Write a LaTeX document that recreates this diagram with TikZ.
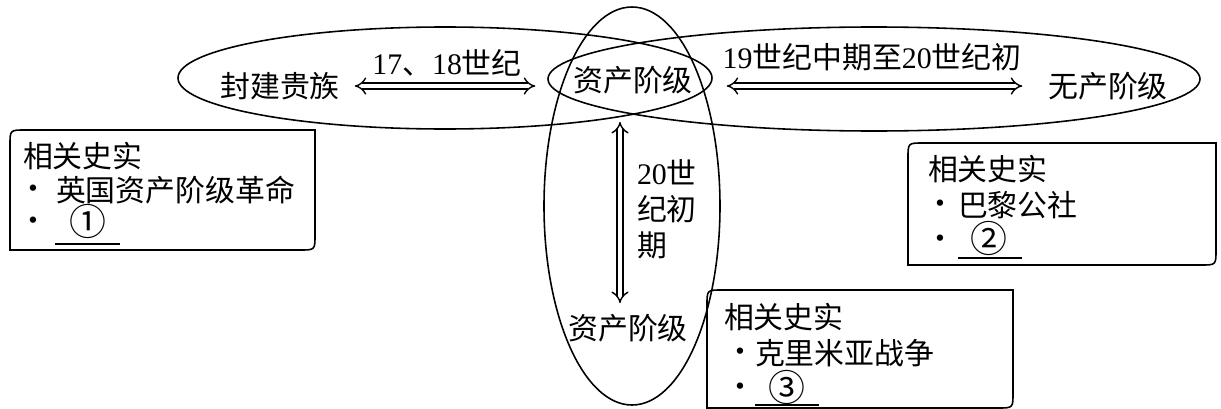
\documentclass[tikz,border=0pt]{standalone}
\usepackage{fontspec}
\setmainfont{Liberation Serif}
\newfontfamily\cjk{Noto Sans CJK SC}
\usetikzlibrary{shapes.geometric,arrows.meta,calc}
\newcommand{\zh}[1]{{\cjk #1}}
\begin{document}
\begin{tikzpicture}[x=0.02cm,y=-0.02cm,
  txt/.style={inner sep=0pt, outer sep=0pt, font=\fontsize{17}{20}\selectfont},
  circ/.style={inner sep=0pt, outer sep=0pt, font=\fontsize{21}{22}\selectfont},
  oval/.style={ellipse, draw, line width=0.9pt, inner sep=0pt, outer sep=0pt},
  dbl/.style={double, line width=0.8pt, double distance=2.6pt, {Implies[length=4.5pt]}-{Implies[length=4.5pt]}},
  boxn/.style={inner sep=0pt, outer sep=0pt},
  boxline/.style={line width=0.9pt},
  uline/.style={line width=0.8pt}]
\useasboundingbox (0,0) rectangle (1221,409);

% ellipses
\node[oval, minimum width=534*0.02cm, minimum height=102*0.02cm] (ovL) at (445,78) {};
\node[oval, minimum width=652*0.02cm, minimum height=104*0.02cm] (ovR) at (874,79) {};
\node[oval, minimum width=176*0.02cm, minimum height=398*0.02cm] (ovV) at (632,206) {};

% main labels
\node[txt] (feng) at (280,86) {\zh{封建贵族}};
\node[txt] (zc) at (633,80) {\zh{资产阶级}};
\node[txt] (wu) at (1108,86) {\zh{无产阶级}};
\node[txt] (zb) at (628,328) {\zh{资产阶级}};

\node[txt] (t1) at (447,63) {17\zh{、}18\zh{世纪}};
\node[txt] (t2) at (872,57) {19\zh{世纪中期至}20\zh{世纪初}};
\node[txt, anchor=north west, align=left, font=\fontsize{17}{20.5}\selectfont] (t3) at (637,160) {20\zh{世}\\\zh{纪初}\\\zh{期}};

% arrows
\draw[dbl, shorten <=0.3cm, shorten >=0.76cm] (feng.east) -- (feng.east -| zc.west);
\draw[dbl, shorten <=0.68cm, shorten >=0.52cm] (zc.east |- wu.west) -- (wu.west);
\draw[dbl, shorten <=0.56cm, shorten >=0.22cm] ([xshift=-0.26cm]zc.south) -- ([xshift=-0.26cm]zc.south |- zb.north);

% box 1
\node[boxn, minimum width=305*0.02cm, minimum height=120*0.02cm] (b1) at (162.5,190) {};
\draw[boxline] (b1.south west) -- ($(b1.north west)+(0,15)$) .. controls (b1.north west) .. ($(b1.north west)+(15,0)$)
  -- (b1.north east) -- ($(b1.south east)+(0,-15)$) .. controls (b1.south east) .. ($(b1.south east)+(-15,0)$) -- cycle;
\node[txt, anchor=west] (b1h) at (23,156) {\zh{相关史实}};
\node[txt] (b1d1) at (33,192) {\zh{·}};
\node[txt, anchor=west] (b1a) at (56,190) {\zh{英国资产阶级革命}};
\node[txt] (b1d2) at (33,224) {\zh{·}};
\node[circ] (b1c) at (88,221) {\zh{①}};
\draw[uline] (55,244) -- (120,244);

% box 2
\node[boxn, minimum width=308*0.02cm, minimum height=122*0.02cm] (b2) at (1062,204) {};
\draw[boxline] (b2.south west) -- ($(b2.north west)+(0,15)$) .. controls (b2.north west) .. ($(b2.north west)+(15,0)$)
  -- (b2.north east) -- ($(b2.south east)+(0,-15)$) .. controls (b2.south east) .. ($(b2.south east)+(-15,0)$) -- cycle;
\node[txt, anchor=west] (b2h) at (928,169) {\zh{相关史实}};
\node[txt] (b2d1) at (940,207) {\zh{·}};
\node[txt, anchor=west] (b2a) at (958,205) {\zh{巴黎公社}};
\node[txt] (b2d2) at (940,242) {\zh{·}};
\node[circ] (b2c) at (989,238) {\zh{②}};
\draw[uline] (958,258) -- (1022,258);

% box 3
\node[boxn, minimum width=306*0.02cm, minimum height=118*0.02cm] (b3) at (860,349) {};
\draw[boxline] (b3.south west) -- ($(b3.north west)+(0,15)$) .. controls (b3.north west) .. ($(b3.north west)+(15,0)$)
  -- (b3.north east) -- ($(b3.south east)+(0,-15)$) .. controls (b3.south east) .. ($(b3.south east)+(-15,0)$) -- cycle;
\node[txt, anchor=west] (b3h) at (724,317) {\zh{相关史实}};
\node[txt] (b3d1) at (740,355) {\zh{·}};
\node[txt, anchor=west] (b3a) at (755,353) {\zh{克里米亚战争}};
\node[txt] (b3d2) at (740,390) {\zh{·}};
\node[circ] (b3c) at (787,387) {\zh{③}};
\draw[uline] (755,405) -- (819,405);
\end{tikzpicture}
\end{document}
